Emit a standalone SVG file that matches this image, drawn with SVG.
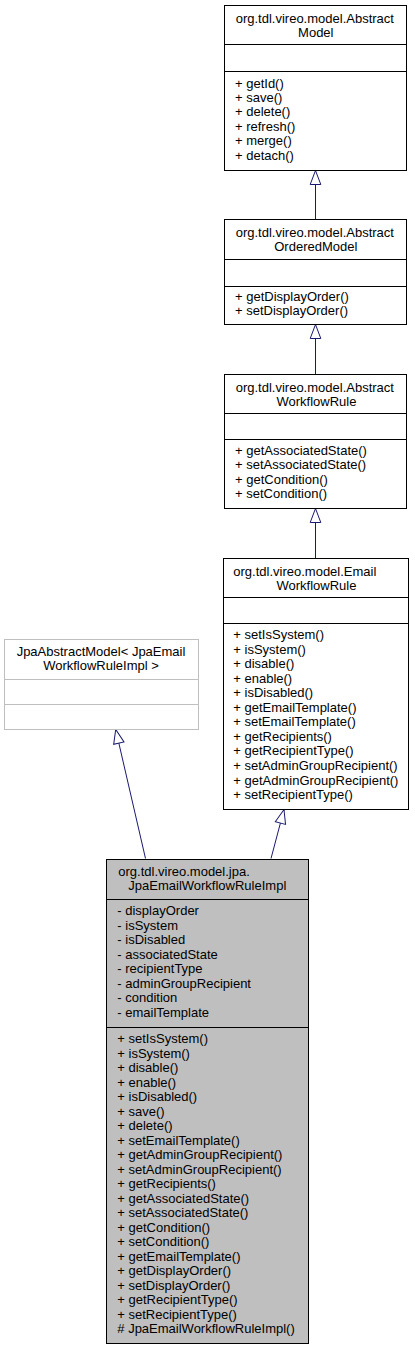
<svg xmlns="http://www.w3.org/2000/svg" width="415" height="1352" viewBox="0 0 415 1352">
<style>
text{font-family:"Liberation Sans",Arial,Helvetica,sans-serif;font-size:13px;fill:#000}
.box{fill:#fff;stroke:#000;stroke-width:1}
.gbox{fill:#fff;stroke:#bfbfbf;stroke-width:1}
.main{fill:#bfbfbf;stroke:#000;stroke-width:1}
.sep{stroke:#000;stroke-width:1}
.gsep{stroke:#bfbfbf;stroke-width:1}
.edge{fill:none;stroke:#191970;stroke-width:1;marker-end:url(#inh)}
</style>
<defs>
<marker id="inh" viewBox="0 0 15 12" markerWidth="15" markerHeight="12" refX="14" refY="6" orient="auto" markerUnits="userSpaceOnUse" overflow="visible">
<path d="M0,0.7 L14,6 L0,11.3 Z" fill="#fff" stroke="#191970" stroke-width="1"/>
</marker>
</defs>
<rect width="415" height="1352" fill="#fff"/>

<g id="connectors">
<line class="edge" x1="315.5" y1="219" x2="315.5" y2="170.5"/>
<line class="edge" x1="315.5" y1="374" x2="315.5" y2="324.5"/>
<line class="edge" x1="315.5" y1="558" x2="315.5" y2="508.5"/>
<line class="edge" x1="271" y1="858.5" x2="284" y2="809.5"/>
<line class="edge" x1="145.5" y1="858.5" x2="115.7" y2="729.5"/>
</g>

<g id="AbstractModel">
<rect class="box" x="224.5" y="5.5" width="182" height="165"/>
<line class="sep" x1="224.5" y1="44.5" x2="406.5" y2="44.5"/>
<line class="sep" x1="224.5" y1="71.5" x2="406.5" y2="71.5"/>
<text x="235.7" y="23">org.tdl.vireo.model.Abstract</text>
<text x="315.8" y="37" text-anchor="middle">Model</text>
<text x="235" y="87.5">+ getId()</text>
<text x="235" y="101.9">+ save()</text>
<text x="235" y="116.3">+ delete()</text>
<text x="235" y="130.7">+ refresh()</text>
<text x="235" y="145.1">+ merge()</text>
<text x="235" y="159.5">+ detach()</text>
</g>

<g id="AbstractOrderedModel">
<rect class="box" x="224.5" y="219.5" width="182" height="105"/>
<line class="sep" x1="224.5" y1="259.5" x2="406.5" y2="259.5"/>
<line class="sep" x1="224.5" y1="286.5" x2="406.5" y2="286.5"/>
<text x="235.7" y="237">org.tdl.vireo.model.Abstract</text>
<text x="315.8" y="251" text-anchor="middle">OrderedModel</text>
<text x="235" y="301">+ getDisplayOrder()</text>
<text x="235" y="315">+ setDisplayOrder()</text>
</g>

<g id="AbstractWorkflowRule">
<rect class="box" x="224.5" y="374.5" width="182" height="134"/>
<line class="sep" x1="224.5" y1="413.5" x2="406.5" y2="413.5"/>
<line class="sep" x1="224.5" y1="439.5" x2="406.5" y2="439.5"/>
<text x="235.7" y="391.5">org.tdl.vireo.model.Abstract</text>
<text x="316.5" y="405.5" text-anchor="middle">WorkflowRule</text>
<text x="235" y="455">+ getAssociatedState()</text>
<text x="235" y="469.4">+ setAssociatedState()</text>
<text x="235" y="483.8">+ getCondition()</text>
<text x="235" y="498.2">+ setCondition()</text>
</g>

<g id="EmailWorkflowRule">
<rect class="box" x="223.5" y="558.5" width="185" height="251"/>
<line class="sep" x1="223.5" y1="597.5" x2="408.5" y2="597.5"/>
<line class="sep" x1="223.5" y1="623.5" x2="408.5" y2="623.5"/>
<text x="233.3" y="575.5">org.tdl.vireo.model.Email</text>
<text x="316.5" y="589.5" text-anchor="middle">WorkflowRule</text>
<text x="233.3" y="639">+ setIsSystem()</text>
<text x="233.3" y="653.55">+ isSystem()</text>
<text x="233.3" y="668.1">+ disable()</text>
<text x="233.3" y="682.65">+ enable()</text>
<text x="233.3" y="697.2">+ isDisabled()</text>
<text x="233.3" y="711.75">+ getEmailTemplate()</text>
<text x="233.3" y="726.3">+ setEmailTemplate()</text>
<text x="233.3" y="740.85">+ getRecipients()</text>
<text x="233.3" y="755.4">+ getRecipientType()</text>
<text x="233.3" y="769.95">+ setAdminGroupRecipient()</text>
<text x="233.3" y="784.5">+ getAdminGroupRecipient()</text>
<text x="233.3" y="799.05">+ setRecipientType()</text>
</g>

<g id="JpaAbstractModel">
<rect class="gbox" x="4.5" y="639.5" width="194" height="90"/>
<line class="gsep" x1="4.5" y1="679.5" x2="198.5" y2="679.5"/>
<line class="gsep" x1="4.5" y1="704.5" x2="198.5" y2="704.5"/>
<text x="101" y="656" text-anchor="middle">JpaAbstractModel&lt; JpaEmail</text>
<text x="101" y="670" text-anchor="middle">WorkflowRuleImpl &gt;</text>
</g>

<g id="JpaEmailWorkflowRuleImpl">
<rect class="main" x="106.5" y="859.5" width="202" height="484"/>
<line class="sep" x1="106.5" y1="899.5" x2="308.5" y2="899.5"/>
<line class="sep" x1="106.5" y1="1027.5" x2="308.5" y2="1027.5"/>
<text x="118.3" y="876">org.tdl.vireo.model.jpa.</text>
<text x="128.3" y="890">JpaEmailWorkflowRuleImpl</text>
<text x="117.3" y="915">- displayOrder</text>
<text x="117.3" y="929.5">- isSystem</text>
<text x="117.3" y="944">- isDisabled</text>
<text x="117.3" y="958.5">- associatedState</text>
<text x="117.3" y="973">- recipientType</text>
<text x="117.3" y="987.5">- adminGroupRecipient</text>
<text x="117.3" y="1002">- condition</text>
<text x="117.3" y="1016.5">- emailTemplate</text>
<text x="117.3" y="1043.3">+ setIsSystem()</text>
<text x="117.3" y="1057.8">+ isSystem()</text>
<text x="117.3" y="1072.3">+ disable()</text>
<text x="117.3" y="1086.8">+ enable()</text>
<text x="117.3" y="1101.3">+ isDisabled()</text>
<text x="117.3" y="1115.8">+ save()</text>
<text x="117.3" y="1130.3">+ delete()</text>
<text x="117.3" y="1144.8">+ setEmailTemplate()</text>
<text x="117.3" y="1159.3">+ getAdminGroupRecipient()</text>
<text x="117.3" y="1173.8">+ setAdminGroupRecipient()</text>
<text x="117.3" y="1188.3">+ getRecipients()</text>
<text x="117.3" y="1202.8">+ getAssociatedState()</text>
<text x="117.3" y="1217.3">+ setAssociatedState()</text>
<text x="117.3" y="1231.8">+ getCondition()</text>
<text x="117.3" y="1246.3">+ setCondition()</text>
<text x="117.3" y="1260.8">+ getEmailTemplate()</text>
<text x="117.3" y="1275.3">+ getDisplayOrder()</text>
<text x="117.3" y="1289.8">+ setDisplayOrder()</text>
<text x="117.3" y="1304.3">+ getRecipientType()</text>
<text x="117.3" y="1318.8">+ setRecipientType()</text>
<text x="117.3" y="1333.3"># JpaEmailWorkflowRuleImpl()</text>
</g>
</svg>
